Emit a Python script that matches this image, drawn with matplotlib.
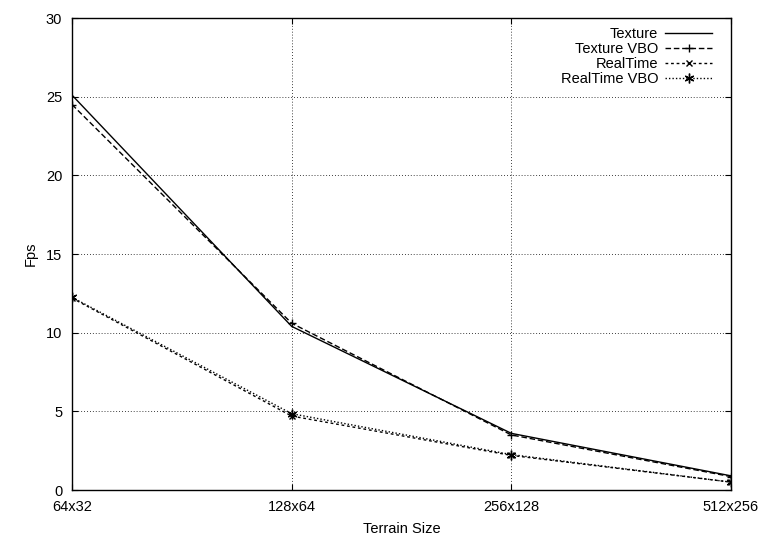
import numpy as np
import matplotlib
matplotlib.use("Agg")
import matplotlib.pyplot as plt

# data
sizes = ["64x32", "128x64", "256x128", "512x256"]
texture = [25.1, 10.4, 3.6, 0.9]
texture_vbo = [24.5, 10.6, 3.5, 0.85]
realtime = [12.2, 4.7, 2.2, 0.5]
realtime_vbo = [12.25, 4.85, 2.25, 0.5]
y_ticks = [0, 5, 10, 15, 20, 25, 30]

plt.rcParams['font.family'] = ['Liberation Sans', 'DejaVu Sans']
fs = 10.5

fig = plt.figure(figsize=(7.62, 5.38), dpi=100)
ax = fig.add_axes([72/762, 48/538, 659/762, 472/538])

x = np.arange(len(sizes))
ax.plot(x, texture, color='black', lw=1, ls='-', label='Texture')
ax.plot(x, texture_vbo, color='black', lw=1, ls=(0, (4, 2)), marker='+', ms=6,
        mew=1, label='Texture VBO')
ax.plot(x, realtime, color='black', lw=1, ls=(0, (2, 2)), marker='x', ms=5,
        mew=1, label='RealTime')
ax.plot(x, realtime_vbo, color='black', lw=1, ls=(0, (1, 1.5)), marker=(6, 2, 0),
        ms=7, mew=1, label='RealTime VBO')

ax.set_xlim(0, len(sizes) - 1)
ax.set_ylim(0, 30)
ax.set_xticks(x)
ax.set_xticklabels(sizes)
ax.set_yticks(y_ticks)
ax.tick_params(direction='in', top=True, right=True, length=4, width=0.8, pad=7,
               labelsize=fs)
ax.grid(True, color='black', ls=(0, (1, 2.5)), lw=0.6)
for s in ax.spines.values():
    s.set_linewidth(1)

ax.set_xlabel('Terrain Size', fontsize=fs, labelpad=6)
ax.set_ylabel('Fps', fontsize=fs, labelpad=6)

leg = ax.legend(loc='upper right', frameon=False, markerfirst=False,
                handlelength=3.2, handletextpad=0.5, labelspacing=0.06,
                borderaxespad=0.0, bbox_to_anchor=(0.98, 0.993), fontsize=fs)

plt.savefig('out.png', dpi=100)
